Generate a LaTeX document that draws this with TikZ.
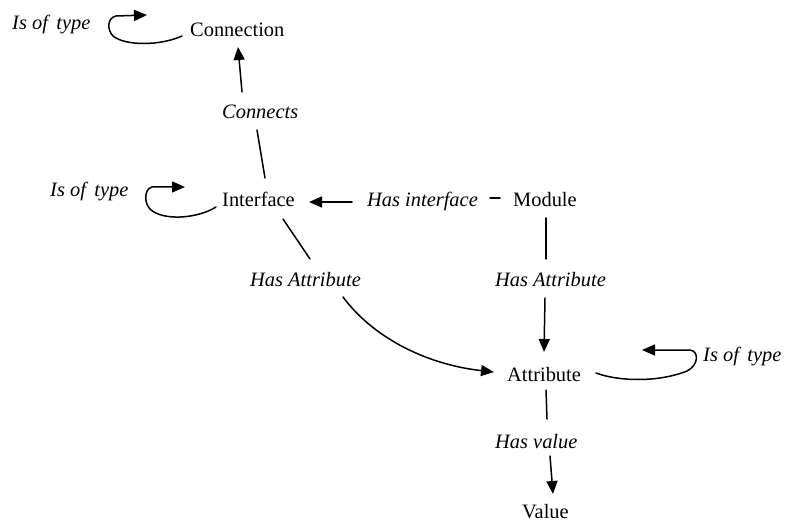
\documentclass[tikz,border=0pt]{standalone}
\usepackage{fontspec}
\setmainfont{Liberation Serif}
\usetikzlibrary{arrows.meta,calc}
\begin{document}
\begin{tikzpicture}[x=1bp,y=-1bp,
  lbl/.style={inner sep=0pt,anchor=base west,font=\fontsize{20.5}{24}\selectfont},
  rel/.style={lbl,font=\fontsize{20.5}{24}\selectfont\itshape},
  con/.style={line width=1.5bp,line cap=round,line join=round},
  arr/.style={con,-{Triangle[length=13bp,width=11bp]}}]
\useasboundingbox (0,0) rectangle (795,522);
% nodes
\node[lbl] (connection) at (190,37) {Connection};
\node[rel] (typeA) at (12,30) {Is of\, type};
\node[rel] (connects) at (222,119) {Connects};
\node[lbl] (interface) at (222,207) {Interface};
\node[rel] (typeB) at (50,197) {Is of\, type};
\node[rel] (hasint) at (367,207) {Has interface};
\node[lbl] (module) at (513,207) {Module};
\node[rel] (hasattrL) at (250,287) {Has Attribute};
\node[rel] (hasattrR) at (495,287) {Has Attribute};
\node[lbl] (attribute) at (507,381) {Attribute};
\node[rel] (typeC) at (703,361) {Is of\, type};
\node[rel] (hasval) at (495,448) {Has value};
\node[lbl] (value) at (522,518) {Value};
% connectors
\draw[arr] ($(connects.base west)+(20,-27)$) -- ($(connection.base west)+(48,10)$);
\draw[con] ($(interface.base west)+(43,-29)$) -- ($(connects.base west)+(35,11)$);
\draw[arr] ($(hasint.base west)+(-15,-5)$) -- ($(interface.base west)+(87,-5)$);
\draw[con] ($(module.base west)+(-13,-9)$) -- ($(hasint.base west)+(123,-9)$);
\draw[con] ($(module.base west)+(33,11)$) -- ($(hasattrR.base west)+(51,-28)$);
\draw[arr] ($(hasattrR.base west)+(50,11)$) -- ($(attribute.base west)+(37,-29)$);
\draw[con] ($(interface.base west)+(61,12)$) -- ($(hasattrL.base west)+(60,-28)$);
\draw[arr] ($(hasattrL.base west)+(93,10)$) .. controls (375,340) and (430,365) .. ($(attribute.base west)+(-13,-9)$);
\draw[con] ($(attribute.base west)+(39,9)$) -- ($(hasval.base west)+(52,-29)$);
\draw[arr] ($(hasval.base west)+(55,8)$) -- ($(value.base west)+(31,-24)$);
% self loops
\draw[arr,shift={(190,37)}] (-8,-1) .. controls (-30,9) and (-65,9) .. (-77,-1)
   .. controls (-83,-7) and (-83,-19) .. (-74,-21) -- (-43,-22);
\draw[arr,shift={(222,207)}] (-6,0) .. controls (-25,12) and (-60,14) .. (-72,2)
   .. controls (-78,-4) and (-78,-18) .. (-70,-20) -- (-37,-20);
\draw[arr,shift={(507,381)}] (89,-8) .. controls (110,0) and (150,2) .. (180,-10)
   .. controls (192,-16) and (192,-30) .. (183,-31) -- (135,-31);
\end{tikzpicture}
\end{document}
